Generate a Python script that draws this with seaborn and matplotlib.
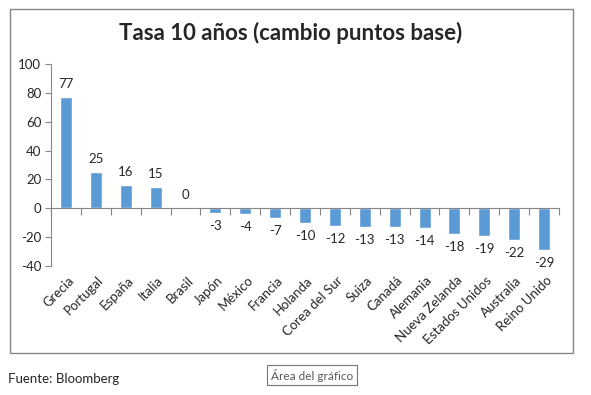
import numpy as np
import pandas as pd
import seaborn as sns
import matplotlib.pyplot as plt
from matplotlib.patches import Rectangle
from matplotlib.transforms import blended_transform_factory

# datos (cambio en puntos base, tasa 10 años)
paises = ['Grecia', 'Portugal', 'España', 'Italia', 'Brasil', 'Japón', 'México',
          'Francia', 'Holanda', 'Corea del Sur', 'Suiza', 'Canadá', 'Alemania',
          'Nueva Zelanda', 'Estados Unidos', 'Australia', 'Reino Unido']
cambio = [77, 25, 16, 15, 0, -3, -4, -7, -10, -12, -13, -13, -14, -18, -19, -22, -29]
yticks = [-40, -20, 0, 20, 40, 60, 80, 100]

df = pd.DataFrame({'pais': paises, 'cambio': cambio})

sns.set_style("white")
plt.rcParams['font.family'] = ['Lato', 'DejaVu Sans']

W, H = 591, 395
fig = plt.figure(figsize=(W / 100, H / 100), dpi=100)
ax = fig.add_axes([51 / W, 1 - 266 / H, (559 - 51) / W, (266 - 64) / H])

gris = '#868686'
azul = '#5B9BD5'

g = sns.barplot(data=df, x='pais', y='cambio', color=azul, width=0.4,
                saturation=1, ax=ax, order=paises)
g.bar_label(g.containers[0], fmt='%d', padding=5, fontsize=9.5)

ax.set_xlim(-0.5, len(paises) - 0.5)
ax.set_ylim(-40, 100)
ax.set_yticks(yticks)
ax.set_yticklabels([str(v) for v in yticks], fontsize=9.5)
ax.set_xlabel('')
ax.set_ylabel('')

for s in ['top', 'right']:
    ax.spines[s].set_visible(False)
ax.spines['bottom'].set_position(('data', 0))
ax.spines['bottom'].set_color(gris)
ax.spines['left'].set_color(gris)
ax.tick_params(axis='y', length=4, color=gris, direction='out', left=True, pad=3)

# marcas del eje x entre categorías, sin etiquetas en el eje
ax.set_xticks(np.arange(-0.5, len(paises), 1.0))
ax.set_xticklabels([])
ax.tick_params(axis='x', length=5, color=gris, direction='out', bottom=True)

trans = blended_transform_factory(ax.transData, ax.transAxes)
for i, p in enumerate(paises):
    ax.text(i + 0.05, -0.04, p, transform=trans, rotation=45, ha='right', va='top',
            rotation_mode='anchor', fontsize=9.5)

# marco del área del gráfico
fig.patches.append(Rectangle((10 / W, 1 - 353 / H), (573 - 10) / W, (353 - 9) / H,
                             transform=fig.transFigure, fill=False, edgecolor=gris,
                             linewidth=1))

fig.text(291 / W, 1 - 33 / H, 'Tasa 10 años (cambio puntos base)', ha='center',
         va='center', fontsize=16, fontweight='bold')
fig.text(8 / W, 1 - 379 / H, 'Fuente: Bloomberg', ha='left', va='center', fontsize=9.5)
fig.text(271 / W, 1 - 375 / H, 'Área del gráfico', ha='left', va='center', fontsize=8.5,
         color='#575757',
         bbox=dict(boxstyle='square,pad=0.3', facecolor='white', edgecolor='#767676',
                   linewidth=0.8))

fig.savefig('out.png', dpi=100)
